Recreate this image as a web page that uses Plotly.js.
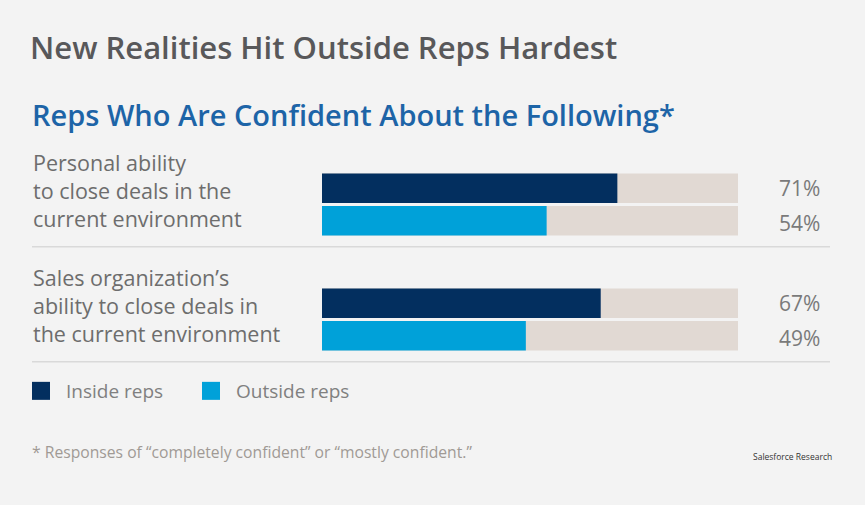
<!DOCTYPE html>
<html>
<head>
<meta charset="utf-8">
<script src="https://cdn.plot.ly/plotly-3.0.1.min.js"></script>
<style>
html,body{margin:0;padding:0;background:#f3f3f3;}
#chart{width:865px;height:505px;}
#chart .legend .legendpoints path{transform-box:fill-box;transform-origin:center;transform:translate(15px,0) scale(1.5);}
</style>
</head>
<body>
<div id="chart"></div>
<script>
// ---- data ----
const categories = [
  "Personal ability<br>to close deals in the<br>current environment",
  "Sales organization’s<br>ability to close deals in<br>the current environment"
];
const seriesNames = ["Inside reps", "Outside reps"];
const insideValues = [71, 67];
const outsideValues = [54, 49];
const fullScale = [100, 100];

const titleText = "New Realities Hit Outside Reps Hardest";
const subtitleText = "Reps Who Are Confident About the Following*";
const footnoteText = "* Responses of “completely confident” or “mostly confident.”";
const sourceText = "Salesforce Research";

// ---- styles ----
const NAVY = "#032f5f";
const BLUE = "#00a1d9";
const TRACK = "#e1d9d3";
const FONT = "Open Sans, Noto Sans, sans-serif";

const yIdx = categories.map((c, i) => i);

const traces = [
  {type: "bar", orientation: "h", y: yIdx, x: fullScale, offsetgroup: "in",
   marker: {color: TRACK}, showlegend: false, hoverinfo: "skip"},
  {type: "bar", orientation: "h", y: yIdx, x: fullScale, offsetgroup: "out",
   marker: {color: TRACK}, showlegend: false, hoverinfo: "skip"},
  {type: "bar", orientation: "h", y: yIdx, x: insideValues, offsetgroup: "in",
   name: seriesNames[0], marker: {color: NAVY}},
  {type: "bar", orientation: "h", y: yIdx, x: outsideValues, offsetgroup: "out",
   name: seriesNames[1], marker: {color: BLUE}}
];

// plot area in pixels: x 322..738, y 147..377
const L = 322, R = 738, T = 147, B = 377;
const px2x = p => (p - L) / (R - L);
const py2y = p => (B - p) / (B - T);

const annotations = [];
annotations.push({xref: "paper", yref: "paper", x: px2x(30), y: py2y(115), xanchor: "left", yanchor: "middle",
  text: subtitleText, showarrow: false, font: {family: FONT, size: 29, weight: 600, color: "#1d64a7"}});
categories.forEach((c, i) => {
  annotations.push({xref: "paper", yref: "y", x: px2x(31), y: i, yshift: 14, xanchor: "left", yanchor: "middle",
    align: "left", text: c, showarrow: false, font: {family: FONT, size: 21.5, color: "#6d6d6d"}});
  annotations.push({xref: "paper", yref: "y", x: px2x(822), y: i, yshift: 17, xanchor: "right", yanchor: "middle",
    text: insideValues[i] + "%", showarrow: false, font: {family: FONT, size: 21, color: "#7a7a7a"}});
  annotations.push({xref: "paper", yref: "y", x: px2x(822), y: i, yshift: -18, xanchor: "right", yanchor: "middle",
    text: outsideValues[i] + "%", showarrow: false, font: {family: FONT, size: 21, color: "#7a7a7a"}});
});
annotations.push({xref: "paper", yref: "paper", x: px2x(30), y: py2y(452), xanchor: "left", yanchor: "middle",
  text: footnoteText, showarrow: false, font: {family: FONT, size: 15.7, color: "#a09a95"}});
annotations.push({xref: "paper", yref: "paper", x: px2x(834), y: py2y(456), xanchor: "right", yanchor: "middle",
  text: sourceText, showarrow: false, font: {family: FONT, size: 8.5, color: "#333"}});

const shapes = categories.map((c, i) => ({
  type: "line", xref: "paper", yref: "y", x0: px2x(32), x1: px2x(830),
  y0: i + 0.367, y1: i + 0.367, line: {color: "#d9d9d9", width: 1.5}
}));

const layout = {
  width: 865, height: 505,
  paper_bgcolor: "#f3f3f3", plot_bgcolor: "#f3f3f3",
  margin: {l: L, r: 865 - R, t: T, b: 505 - B},
  barmode: "group", bargap: 0.435, bargroupgap: 0.09,
  title: {text: titleText, x: 30 / 865, xanchor: "left", xref: "container",
    y: 1 - 48 / 505, yanchor: "middle", yref: "container",
    font: {family: FONT, size: 31, weight: 600, color: "#58585a"}},
  xaxis: {range: [0, 100], visible: false, fixedrange: true},
  yaxis: {range: [1.5, -0.5], visible: false, fixedrange: true},
  showlegend: true,
  legend: {orientation: "h", x: px2x(26), y: py2y(391), xanchor: "left", yanchor: "middle",
    font: {family: FONT, size: 19, color: "#808080"}, entrywidth: 125, bgcolor: "rgba(0,0,0,0)",
    traceorder: "normal"},
  annotations: annotations,
  shapes: shapes,
  font: {family: FONT}
};

Plotly.newPlot("chart", traces, layout, {displayModeBar: false, staticPlot: true});
</script>
</body>
</html>
